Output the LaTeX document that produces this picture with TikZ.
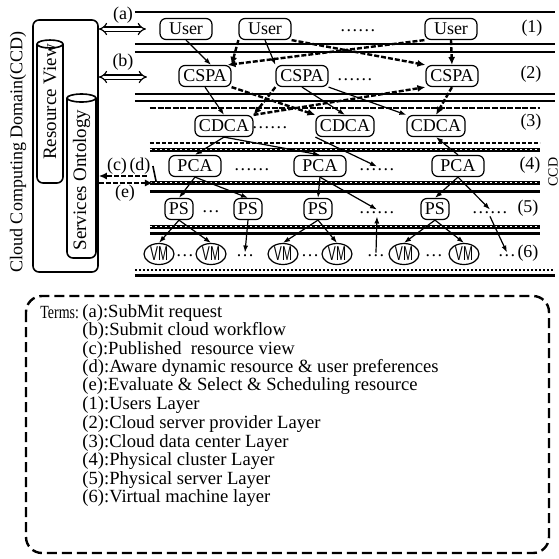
\documentclass[tikz,border=0pt]{standalone}
\usepackage{fontspec}
\setmainfont{Liberation Serif}
\setsansfont{Liberation Sans}
\usetikzlibrary{arrows.meta,shapes.geometric}

\begin{document}
\begin{tikzpicture}[x=0.5pt,y=-0.5pt,
    agent/.style={draw, line width=0.6pt, rounded corners=3pt, minimum width=26pt,
        minimum height=10.5pt, inner xsep=2pt, inner ysep=1pt,
        font=\fontsize{9}{10}\selectfont},
    server/.style={agent, minimum width=0pt},
    vmnode/.style={draw, line width=0.6pt, ellipse, minimum width=15pt,
        minimum height=10.5pt, inner sep=0pt},
    txt/.style={inner sep=1pt, font=\fontsize{9}{10}\selectfont},
    term/.style={inner sep=0pt, anchor=west, font=\fontsize{9.3}{10}\selectfont},
    layerline/.style={line width=1pt},
    heavyline/.style={line width=1.5pt},
    railline/.style={line width=2pt},
    flow/.style={line width=1.2pt, dash pattern=on 2.5pt off 1pt,
        -{Latex[length=4pt,width=3.5pt]}},
    link/.style={line width=0.6pt, -{Latex[length=3.5pt,width=2.5pt]}},
    viewarrow/.style={double, double distance=1.5pt, line width=0.6pt,
        {Implies}-{Implies}}]
    \useasboundingbox (0,0) rectangle (559,559);

        %draw domain box with the two stores
    \node[draw, line width=0.8pt, rounded corners=3pt, minimum width=32.5pt,
        minimum height=126pt, inner sep=0pt] (ccd) at (65.5,146) {};
    \node[txt, rotate=90] (ccdname) at (18,152) {Cloud Computing Domain(CCD)};
    \draw[line width=0.8pt, rounded corners=3pt] (37,44) -- (37,183) -- (63,183) -- (63,44);
    \draw[line width=0.8pt] (50,44) ellipse (6.5pt and 2pt);
    \node[txt, rotate=90, font=\fontsize{9.5}{10}\selectfont] (rview) at (50,102) {Resource View};
    \draw[line width=0.8pt, rounded corners=3pt] (67,98) -- (67,258) -- (96,258) -- (96,98);
    \draw[line width=0.8pt] (81.5,98) ellipse (7.25pt and 2pt);
    \node[txt, rotate=90, font=\fontsize{9.5}{10}\selectfont] (sonto) at (81.5,180) {Services Ontology};

        %draw layer lines
    \foreach \y in {12,44,52,94,101}
        \draw[layerline] (135,\y) -- (555,\y);
    \draw[line width=1.3pt, dash pattern=on 3pt off 0.8pt] (150,108) -- (540,108);
    \draw[line width=0.7pt, dash pattern=on 2pt off 1pt] (150,143) -- (540,143);
    \foreach \y in {150,183,227}{
        \draw[railline] (150,\y) -- (540,\y);
        \draw[white, line width=0.5pt, dash pattern=on 1pt off 1.5pt] (150,\y-0.5) -- (540,\y-0.5);
    }
    \draw[heavyline] (150,191) -- (540,191);
    \draw[heavyline] (150,233) -- (540,233);
    \draw[line width=0.6pt, dash pattern=on 1pt off 1pt] (135,270) -- (555,270);
    \draw[heavyline] (135,275) -- (555,275);

        %layer 1: users
    \node[agent] (user1) at (186,29) {User};
    \node[agent] (user2) at (265,29) {User};
    \node[txt] (dots1) at (358,31) {\ldots\ldots};
    \node[agent] (user3) at (451,29) {User};
    \node[txt] (lab1) at (532,28) {(1)};
        %layer 2: cloud server provider agents
    \node[agent] (cspa1) at (205,76) {CSPA};
    \node[agent] (cspa2) at (302,76) {CSPA};
    \node[txt] (dots2) at (355,80) {\ldots\ldots};
    \node[agent] (cspa3) at (452,76) {CSPA};
    \node[txt] (lab2) at (531,74) {(2)};
        %layer 3: data center agents
    \node[agent] (cdca1) at (224,126) {CDCA};
    \node[txt] (dots3) at (270,128) {\ldots\ldots};
    \node[agent] (cdca2) at (345,126) {CDCA};
    \node[agent] (cdca3) at (436,126) {CDCA};
    \node[txt] (lab3) at (531,122) {(3)};
        %layer 4: physical cluster agents
    \node[agent] (pca1) at (195,166) {PCA};
    \node[txt] (dots4a) at (252,170) {\ldots\ldots};
    \node[agent] (pca2) at (320,166) {PCA};
    \node[txt] (dots4b) at (377,170) {\ldots\ldots};
    \node[agent] (pca3) at (458,166) {PCA};
    \node[txt] (lab4) at (530,165) {(4)};
        %layer 5: physical servers
    \node[server] (ps1) at (179,209) {PS};
    \node[txt] (dots5a) at (211,212) {\ldots};
    \node[server] (ps2) at (248,209) {PS};
    \node[server] (ps3) at (318,209) {PS};
    \node[txt] (dots5b) at (377,213) {\ldots\ldots};
    \node[server] (ps4) at (435,209) {PS};
    \node[txt] (dots5c) at (490,213) {\ldots\ldots};
    \node[txt] (lab5) at (528,208) {(5)};
        %layer 6: virtual machines
    \foreach \x [count=\i] in {159,211,283,337,404,464}
        \node[vmnode] (vm\i) at (\x,254) {\scalebox{0.6}[1]{\fontsize{10}{10}\sffamily VM}};
    \foreach \x [count=\i] in {185,245,310,376,434,507}
        \node[txt] (dots6\i) at (\x,256) {\ldots};
    \node[txt] (lab6) at (528,253) {(6)};
    \node[txt, rotate=90, font=\fontsize{7}{8}\selectfont] (ccdright) at (553,172) {CCD};

        %draw users to providers
    \draw[link] (user1.south) -- ([xshift=3pt]cspa1.north);
    \draw[flow] (user2.south west) -- (cspa1.north east);
    \draw[link] (user2.south) -- (cspa2.north west);
    \draw[flow] (user3.south west) -- ([xshift=-2pt]cspa1.north east);
    \draw[flow] (user2.south east) -- (cspa3.north west);
    \draw[flow] (user3.south) -- (cspa3.north);
        %draw providers to data centers
    \draw[link] (cspa1.south) -- (cdca1.north);
    \draw[flow] (cspa1.south east) -- (cdca2.north west);
    \draw[flow] (cspa2.south west) -- (cdca1.north east);
    \draw[link] (cspa2.south) -- (cdca2.north);
    \draw[link] (cspa2.south east) -- (cdca3.north west);
    \draw[flow] (cdca1.north east) -- (cspa3.south west);
    \draw[flow] (cspa3.south) -- (cdca3.north);
        %draw data centers to clusters
    \draw[link] (cdca1.south) -- (pca1.north);
    \draw[link] (cdca1.south) -- (pca2.north);
    \draw[link] (cdca2.south west) -- (dots4b.north);
    \draw[link] (pca3.north) -- (cdca3.south);
        %draw clusters to servers
    \draw[link] (pca1.south) -- (ps1.north);
    \draw[link] (pca1.south) -- (ps2.north);
    \draw[link] (pca2.south) -- (ps3.north);
    \draw[link] (pca2.south) -- (dots5b.north);
    \draw[link] (pca3.south) -- (ps4.north);
    \draw[link] (pca3.south) -- (dots5c.north);
        %draw servers to virtual machines
    \draw[link] (ps1.south) -- (vm1.north);
    \draw[link] (ps1.south) -- (vm2.north);
    \draw[link] (ps2.south) -- (dots62.north);
    \draw[link] (ps3.south) -- (vm3.north);
    \draw[link] (ps3.south) -- (vm4.north);
    \draw[link, {Latex[length=3.5pt,width=2.5pt]}-] (dots5b.south) -- (dots64.north);
    \draw[link] (ps4.south) -- (vm5.north);
    \draw[link] (ps4.south) -- (vm6.north);
    \draw[link] (dots5c.south) -- (dots66.north);

        %draw arrows between domain and layers
    \coordinate (aEnd) at (146,29);
    \coordinate (bEnd) at (147,77);
    \draw[viewarrow] (ccd.east |- aEnd) -- (aEnd);
    \draw[viewarrow] (ccd.east |- bEnd) -- (bEnd);
    \node[txt] (alab) at (123,15) {(a)};
    \node[txt] (blab) at (123,62) {(b)};
    \coordinate (cEnd) at (147,176);
    \coordinate (eEnd) at (153,183);
    \coordinate (dEnd) at (156,181);
    \draw[flow] (cEnd) -- (ccd.east |- cEnd);
    \draw[flow] (ccd.east |- eEnd) -- (eEnd);
    \node[txt] (clab) at (117,166) {(c)};
    \node[txt] (dlab) at (140,166) {(d)};
    \node[txt] (elab) at (125,193) {(e)};
    \draw[line width=0.8pt] (dlab.east) -- (dEnd);

        %draw terms box
    \draw[line width=1.2pt, dash pattern=on 5pt off 2.5pt, rounded corners=8pt]
        (26,296) rectangle (549,553);
    \node[term] (terms) at (40,313) {\scalebox{0.75}[1]{Terms:}};
    \foreach \ty/\txt [count=\i] in {313/{(a):SubMit request},
        331/{(b):Submit cloud workflow},
        350/{(c):Published\ \ resource view},
        368/{(d):Aware dynamic resource \& user preferences},
        386/{(e):Evaluate \& Select \& Scheduling resource},
        405/{(1):Users Layer},
        424/{(2):Cloud server provider Layer},
        443/{(3):Cloud data center Layer},
        461/{(4):Physical cluster Layer},
        480/{(5):Physical server Layer},
        498/{(6):Virtual machine layer}}
        \node[term] (term\i) at (82,\ty) {\txt};
\end{tikzpicture}
\end{document}
